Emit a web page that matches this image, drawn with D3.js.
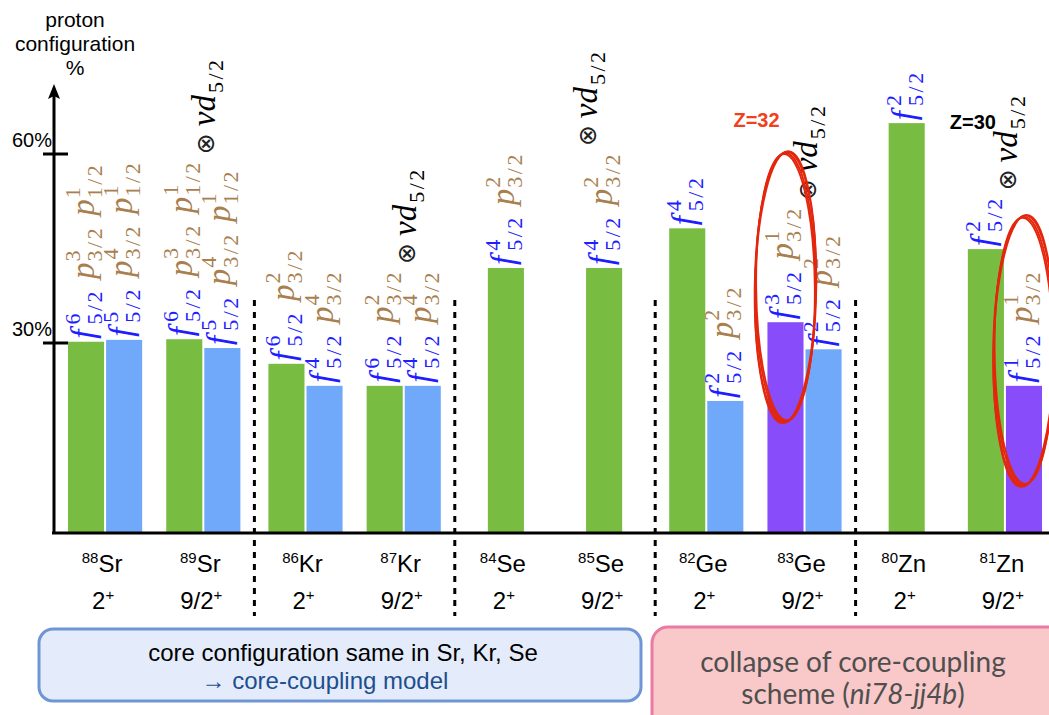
<!DOCTYPE html>
<html>
<head>
<meta charset="utf-8">
<title>Proton configuration</title>
<script src="https://d3js.org/d3.v7.min.js"></script>
<style>
  body { margin: 0; background: #fff; }
  svg { display: block; font-family: "Liberation Sans", Arial, sans-serif; }
</style>
</head>
<body>
<svg class="chart" width="1049" height="715"></svg>
<script>
// ---- data ----
var elements = ["Sr", "Kr", "Se", "Ge", "Zn"];
var masses = [88, 89, 86, 87, 84, 85, 82, 83, 80, 81];
var symbols = ["Sr", "Sr", "Kr", "Kr", "Se", "Se", "Ge", "Ge", "Zn", "Zn"];
var spins = ["2", "9/2", "2", "9/2", "2", "9/2", "2", "9/2", "2", "9/2"];
var leftValues = [30.2, 30.6, 26.7, 23.2, 41.9, 41.9, 48.2, 33.3, 64.9, 44.9];
var rightValues = [30.5, 29.2, 23.2, 23.2, null, null, 20.8, 29.0, null, 23.2];
var leftKinds = ["g", "g", "g", "g", "g", "g", "g", "p", "g", "g"];
var rightKinds = ["b", "b", "b", "b", null, null, "b", "b", null, "p"];
// orbital:occupation  (f = f5/2, p3 = p3/2, p1 = p1/2)
var leftConfigs = ["f:6 p3:3 p1:1", "f:6 p3:3 p1:1", "f:6 p3:2", "f:6 p3:2", "f:4 p3:2",
                   "f:4 p3:2", "f:4", "f:3 p3:1", "f:2", "f:2"];
var rightConfigs = ["f:5 p3:4 p1:1", "f:5 p3:4 p1:1", "f:4 p3:4", "f:4 p3:4", null,
                    null, "f:2 p3:2", "f:2 p3:2", null, "f:1 p3:1"];
var coupled = [false, true, false, true, false, true, false, true, false, true];
var yTicks = [30, 60];
var axisTitle = ["proton", "configuration", "%"];
var circled = [[7, "left"], [9, "right"]];
var zNotes = [[7, "Z=32", "#f2401c"], [9, "Z=30", "#000"]];

var colors = { g: "#78bc42", b: "#70a8fa", p: "#884cfa" };
var orbitals = {
  f: { base: "f", sub: "5/2", color: "#1e1eff" },
  p3: { base: "p", sub: "3/2", color: "#a97f50" },
  p1: { base: "p", sub: "1/2", color: "#a97f50" }
};

var svg = d3.select("svg.chart");
var baseY = 532;

var y = d3.scaleLinear().domain([0, 60]).range([baseY, 154]);
var xEl = d3.scaleBand().domain(elements).range([54, 1056]);
var barW = xEl.bandwidth() * 0.18;

function isoX(i) {
  var el = symbols[i];
  var inner = d3.scalePoint().domain([0, 1])
    .range([xEl(el), xEl(el) + xEl.bandwidth()]).padding(0.52);
  return inner(i % 2);
}

// build bar list
var bars = [];
masses.forEach(function(m, i) {
  var c = isoX(i);
  var both = rightValues[i] != null;
  bars.push({ iso: i, side: "left", v: leftValues[i], kind: leftKinds[i], conf: leftConfigs[i],
              x0: both ? c - 1 - barW : c - barW / 2 });
  if (both) {
    bars.push({ iso: i, side: "right", v: rightValues[i], kind: rightKinds[i], conf: rightConfigs[i],
                x0: c + 1 });
  }
});

// dashed separators between elements
svg.append("g").selectAll("line")
  .data(elements.slice(1))
  .join("line")
  .attr("x1", function(d) { return xEl(d); })
  .attr("x2", function(d) { return xEl(d); })
  .attr("y1", 300).attr("y2", 616)
  .attr("stroke", "#000").attr("stroke-width", 3)
  .attr("stroke-dasharray", "6,6");

// bars
svg.append("g").selectAll("rect")
  .data(bars)
  .join("rect")
  .attr("x", function(d) { return d.x0; })
  .attr("y", function(d) { return y(d.v); })
  .attr("width", barW)
  .attr("height", function(d) { return baseY - y(d.v); })
  .attr("fill", function(d) { return colors[d.kind]; });

// configuration labels (rotated, math-like)
var BASE_FS = 33, SCRIPT_FS = 22;
function mathText(g, str, x, yy, size, italic, color, family, spacing) {
  return g.append("text")
    .attr("x", x).attr("y", yy)
    .style("font-family", family || "Liberation Serif")
    .style("font-style", italic ? "italic" : "normal")
    .style("font-size", size + "px")
    .style("letter-spacing", (spacing || 0) + "px")
    .attr("fill", color)
    .text(str);
}
function drawConfig(g, conf) {
  var x = 0;
  var toks = conf.split(" ");
  toks.forEach(function(tok, k) {
    var parts = tok.split(":");
    var o = orbitals[parts[0]];
    var b = mathText(g, o.base, x, 0, BASE_FS, true, o.color);
    x += b.node().getComputedTextLength() + (o.base === "f" ? 5 : 1);
    var s = mathText(g, parts[1], x, -14, SCRIPT_FS, false, o.color);
    var u = mathText(g, o.sub, x, 8, SCRIPT_FS, false, o.color, null, 2.5);
    x += Math.max(s.node().getComputedTextLength(), u.node().getComputedTextLength());
    if (k < toks.length - 1) x += 10;
  });
  return x;
}

var labelLayer = svg.append("g");
var labelInfo = {};
bars.forEach(function(d) {
  var bx = d.x0 + barW / 2 + 8;
  var by = y(d.v) - 3;
  var g = labelLayer.append("g").attr("transform", "translate(" + bx + "," + by + ") rotate(-90)");
  var len = drawConfig(g, d.conf);
  var info = labelInfo[d.iso] || (labelInfo[d.iso] = { top: Infinity, bx: 0 });
  info.top = Math.min(info.top, by - len);
  info.bx = Math.max(info.bx, bx);
});

// ⊗ νd5/2 for the odd-mass isotopes
coupled.forEach(function(on, i) {
  if (!on) return;
  var info = labelInfo[i];
  var g = labelLayer.append("g")
    .attr("transform", "translate(" + (info.bx - 15) + "," + (info.top - 6) + ") rotate(-90)");
  var o = mathText(g, "\u2297", 0, -1, 25, false, "#222", "DejaVu Sans");
  var x = o.node().getComputedTextLength() + 7;
  var nd = mathText(g, "\u03bdd", x, 0, BASE_FS, true, "#000");
  x += nd.node().getComputedTextLength() + 2;
  mathText(g, "5/2", x, 8, SCRIPT_FS, false, "#000", null, 2.5);
});

// Z notes
svg.append("g").selectAll("text")
  .data(zNotes)
  .join("text")
  .attr("x", function(d) { return isoX(d[0]) + (d[0] === 7 ? -48 : -32); })
  .attr("y", function(d) { return y(d[0] === 7 ? 64.3 : 65); })
  .attr("dy", function(d) { return d[0] === 7 ? 0 : 6; })
  .attr("text-anchor", "middle")
  .style("font-size", "20px").style("font-weight", "bold")
  .attr("fill", function(d) { return d[2]; })
  .text(function(d) { return d[1]; });

// hand-drawn red ellipses
var jitter = [[0, 0, 0], [0.8, 1.2, 0.7], [-0.7, -1, -0.6], [0.4, 2, 1.2]];
circled.forEach(function(cd) {
  var b = bars.filter(function(d) { return d.iso === cd[0] && d.side === cd[1]; })[0];
  var cx = b.x0 + barW / 2, cy = y(b.v) - 35;
  svg.append("g").selectAll("ellipse")
    .data(jitter)
    .join("ellipse")
    .attr("cx", cx).attr("cy", cy)
    .attr("rx", function(j) { return 30 + j[0]; })
    .attr("ry", function(j) { return 134 + j[1]; })
    .attr("transform", function(j) { return "rotate(" + j[2] + "," + cx + "," + cy + ")"; })
    .attr("fill", "none")
    .attr("stroke", "#e3260c")
    .attr("stroke-width", 1.8);
});

// axes
var axis = svg.append("g");
axis.append("line").attr("x1", 52).attr("x2", 1049).attr("y1", baseY + 1).attr("y2", baseY + 1)
  .attr("stroke", "#000").attr("stroke-width", 3);
axis.append("line").attr("x1", 54).attr("x2", 54).attr("y1", baseY + 2).attr("y2", 95)
  .attr("stroke", "#000").attr("stroke-width", 3);
axis.append("path").attr("d", "M54,84 L60,99 L54,96 L48,99 Z").attr("fill", "#000");
axis.selectAll(".tick")
  .data(yTicks)
  .join("line")
  .attr("x1", 43).attr("x2", 68)
  .attr("y1", function(d) { return y(d); })
  .attr("y2", function(d) { return y(d); })
  .attr("stroke", "#000").attr("stroke-width", 3);
axis.selectAll(".tl")
  .data(yTicks)
  .join("text")
  .attr("x", 52)
  .attr("y", function(d) { return y(d) - 7; })
  .attr("text-anchor", "end")
  .style("font-size", "20px")
  .text(function(d) { return d + "%"; });
axis.selectAll(".title")
  .data(axisTitle)
  .join("text")
  .attr("x", 75)
  .attr("y", function(d, i) { return 27 + i * 24; })
  .attr("text-anchor", "middle")
  .style("font-size", "21px")
  .text(function(d) { return d; });

// isotope / spin labels
var iso = svg.append("g").selectAll("g")
  .data(masses)
  .join("g");
var t1 = iso.append("text")
  .attr("x", function(d, i) { return isoX(i) - 3; })
  .attr("y", 572)
  .attr("text-anchor", "middle");
t1.append("tspan").style("font-size", "15px").attr("dy", -9).text(function(d) { return d; });
t1.append("tspan").style("font-size", "24px").attr("dy", 9).text(function(d, i) { return symbols[i]; });
var t2 = iso.append("text")
  .attr("x", function(d, i) { return isoX(i) - 2; })
  .attr("y", 609)
  .attr("text-anchor", "middle");
t2.append("tspan").style("font-size", "24px").text(function(d, i) { return spins[i]; });
t2.append("tspan").style("font-size", "15px").attr("dy", -9).text("+");

// bottom notes
var note1 = svg.append("g");
note1.append("rect").attr("x", 39).attr("y", 629).attr("width", 602).attr("height", 72).attr("rx", 14)
  .attr("fill", "#e4ecfb").attr("stroke", "#6f95d4").attr("stroke-width", 3);
note1.append("text").attr("x", 343).attr("y", 661).attr("text-anchor", "middle")
  .style("font-size", "24px").text("core configuration same in Sr, Kr, Se");
note1.append("text").attr("x", 325).attr("y", 689).attr("text-anchor", "middle")
  .style("font-size", "24px").attr("fill", "#1d4f8e").text("\u2192 core-coupling model");

var note2 = svg.append("g");
note2.append("rect").attr("x", 652).attr("y", 627).attr("width", 420).attr("height", 110).attr("rx", 16)
  .attr("fill", "#f9c8c8").attr("stroke", "#ea7aa2").attr("stroke-width", 3);
note2.append("text").attr("x", 853).attr("y", 672).attr("text-anchor", "middle")
  .style("font-family", "Lato").style("font-size", "28px").attr("fill", "#4f4f4f")
  .text("collapse of core-coupling");
var n2 = note2.append("text").attr("x", 853).attr("y", 704).attr("text-anchor", "middle")
  .style("font-family", "Lato").style("font-size", "28px").attr("fill", "#4f4f4f");
n2.append("tspan").text("scheme (");
n2.append("tspan").style("font-style", "italic").text("ni78-jj4b");
n2.append("tspan").text(")");
</script>
</body>
</html>
